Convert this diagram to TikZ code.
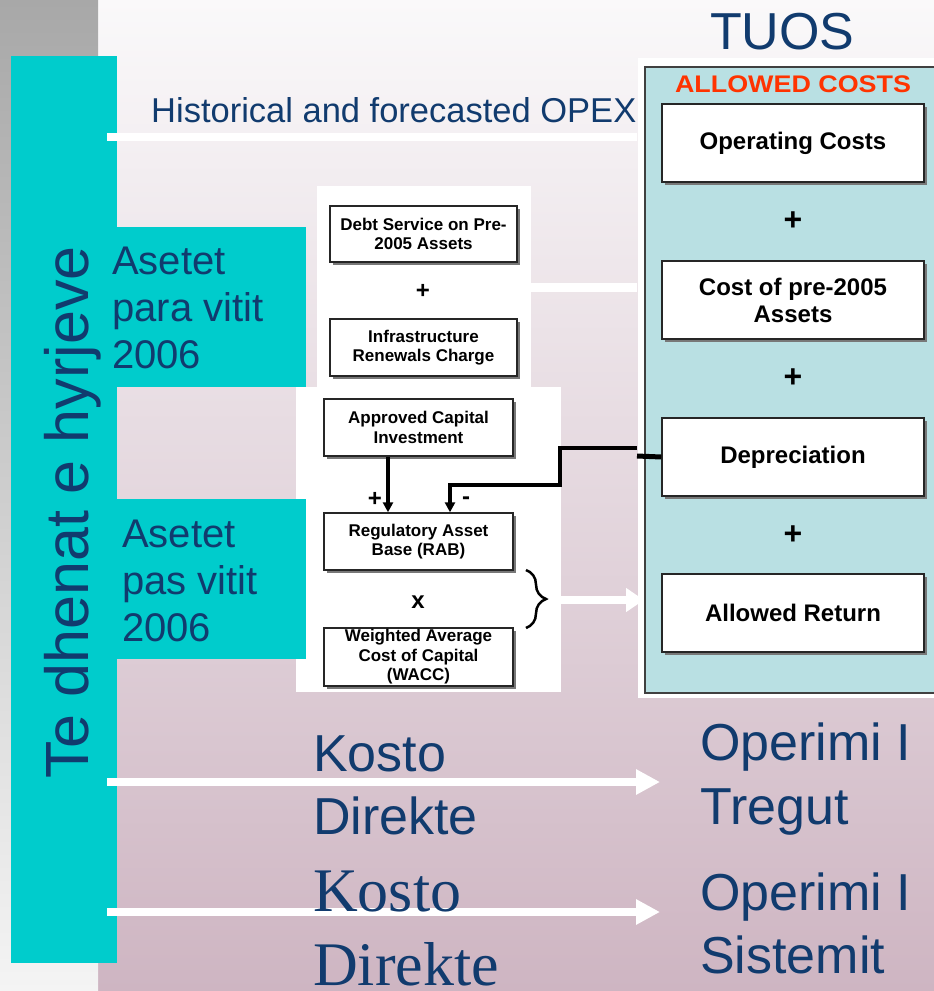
\documentclass[tikz,border=0pt]{standalone}
\usepackage{fontspec}
\setmainfont{Liberation Sans}
\newfontfamily\serifx{Liberation Serif}
\newfontfamily\widebold{Liberation Sans Bold}[FakeStretch=1.12]
\usetikzlibrary{shadows,arrows.meta,decorations.pathreplacing}
\definecolor{navy}{RGB}{17,59,110}
\definecolor{cyanbox}{RGB}{0,204,204}
\definecolor{panelblue}{RGB}{185,224,227}
\definecolor{framegray}{RGB}{64,64,64}
\definecolor{shadowgray}{RGB}{120,120,120}
\definecolor{allowred}{RGB}{255,51,0}
\definecolor{bgtop}{RGB}{250,249,250}
\definecolor{bgbot}{RGB}{206,181,194}
\definecolor{graytop}{RGB}{168,168,168}
\definecolor{graybot}{RGB}{244,244,244}
\tikzset{
  txt/.style={inner sep=0pt, anchor=base west, text=navy},
  costbox/.style={draw=black!85, line width=1.4pt, fill=white, align=center,
    inner xsep=2pt, inner ysep=0pt,
    drop shadow={shadow xshift=3pt, shadow yshift=-3pt, fill=shadowgray, opacity=1}},
  smallbox/.style={costbox, minimum width=188pt, minimum height=57pt,
    font=\fontsize{17}{19.5}\selectfont\bfseries},
  bigbox/.style={costbox, minimum width=262pt, minimum height=78pt,
    font=\fontsize{24}{27}\selectfont\bfseries},
  opsign/.style={inner sep=0pt, font=\fontsize{24}{24}\selectfont\bfseries},
  bigsign/.style={inner sep=0pt, font=\fontsize{32}{32}\selectfont\bfseries},
  whiteline/.style={draw=white, line width=8pt},
  whitearrow/.style={draw=white, line width=8pt, -{Triangle[width=24pt,length=24pt]}},
  blackarrow/.style={draw=black, line width=3.5pt, -{Triangle[width=10pt,length=10pt]}},
  hugetxt/.style={txt, font=\fontsize{52}{62}\selectfont},
  midtxt/.style={txt, font=\fontsize{40}{47}\selectfont},
}
\begin{document}
\begin{tikzpicture}[x=1pt,y=-1pt]
\useasboundingbox (0,0) rectangle (934,991);
\clip (0,0) rectangle (934,991);
% backgrounds
\shade[top color=bgtop, bottom color=bgbot] (98,0) rectangle (934,991);
\shade[top color=graytop, bottom color=graybot] (0,0) rectangle (98,991);
% cyan input bar
\fill[cyanbox] (11,56) rectangle (117,963);
% white panels behind the middle boxes
\fill[white] (317,186) rectangle (531,388);
\fill[white] (296,387) rectangle (561,692);
% cyan boxes
\fill[cyanbox] (117,227) rectangle (306,387);
\fill[cyanbox] (117,499) rectangle (306,659);
% right panel
\fill[white] (638,58) rectangle (940,698);
\node[draw=framegray, line width=2pt, fill=panelblue, minimum width=301pt,
  minimum height=626pt, anchor=north west, inner sep=0pt] (panel) at (644,66) {};

% coordinates for connectors
\coordinate (opexA) at (107,137);
\coordinate (opexB) at (637,137);
\coordinate (preA) at (531,287);
\coordinate (preB) at (637,287);
\coordinate (retA) at (561,600);
\coordinate (retB) at (644,600);
\coordinate (k1A) at (107,782);
\coordinate (k1B) at (660,782);
\coordinate (k2A) at (107,912);
\coordinate (k2B) at (660,912);

\draw[whiteline] (opexA) -- (opexB);
\draw[whiteline, line width=9pt] (preA) -- (preB);
\draw[whitearrow, -{Triangle[width=23pt,length=18pt]}] (retA) -- (retB);
\draw[whitearrow] (k1A) -- (k1B);
\draw[whitearrow] (k2A) -- (k2B);

% titles and labels
\node[txt, font=\fontsize{52}{52}\selectfont] (tuos) at (710,49) {TUOS};
\node[txt, font=\fontsize{34.5}{40}\selectfont] (opex) at (151,122) {Historical and forecasted OPEX};
\node[txt, rotate=90, font=\fontsize{61}{61}\selectfont] (inputs) at (88,779) {Te dhenat e hyrjeve};
\node[midtxt] (a1l1) at (112,274) {Asetet};
\node[midtxt] (a1l2) at (112,321) {para vitit};
\node[midtxt] (a1l3) at (112,368) {2006};
\node[midtxt] (a2l1) at (122,547) {Asetet};
\node[midtxt] (a2l2) at (122,594) {pas vitit};
\node[midtxt] (a2l3) at (122,641) {2006};

% right panel contents
\node[inner sep=0pt, text=allowred, font=\widebold\fontsize{24}{24}\selectfont] (allowed) at (793,84) {ALLOWED COSTS};
\node[bigbox] (opc) at (793,143) {Operating Costs};
\node[bigsign] (p1) at (793,221) {+};
\node[bigbox] (pre) at (793,300) {Cost of pre-2005\\Assets};
\node[bigsign] (p2) at (793,378) {+};
\node[bigbox] (dep) at (793,457) {Depreciation};
\node[bigsign] (p3) at (793,535) {+};
\node[bigbox] (ret) at (793,613) {Allowed Return};

% middle boxes
\node[smallbox, minimum width=187pt, minimum height=56pt] (debt) at (423.5,234) {Debt Service on Pre-\\2005 Assets};
\node[opsign] (p4) at (423,291) {+};
\node[smallbox, minimum width=187pt] (infra) at (423.5,347.5) {Infrastructure\\Renewals Charge};
\node[smallbox, minimum width=189pt] (aci) at (418.5,427.5) {Approved Capital\\Investment};
\node[smallbox, minimum width=189pt] (rab) at (418.5,541.5) {Regulatory Asset\\Base (RAB)};
\node[opsign] (times) at (418,602) {x};
\node[smallbox, minimum width=189pt, minimum height=58pt] (wacc) at (418.5,657) {Weighted Average\\Cost of Capital\\(WACC)};
\node[opsign] (plusin) at (375,499) {+};
\node[opsign] (minus) at (466,501) {-};

% arrows into RAB
\coordinate (cx1) at (388,0);
\coordinate (cx2) at (450,0);
\draw[blackarrow] (aci.south -| cx1) -- (rab.north -| cx1);
\coordinate (dj1) at (637,456);
\coordinate (dj2) at (637,448);
\coordinate (dj3) at (560,448);
\coordinate (dj4) at (560,485);
\coordinate (dj5) at (450,485);
\draw[line width=5pt] (dep.west) -- (dj1);
\draw[blackarrow, line width=4.5pt] (dj2) -- (dj3) -- (dj4) -- (dj5) -- (rab.north -| cx2);
% brace
\draw[line width=2.5pt, decorate, decoration={brace, amplitude=20pt}] (526,570) -- (526,628);

% bottom texts
\node[hugetxt] (k1a) at (313,771) {Kosto};
\node[hugetxt] (k1b) at (313,834) {Direkte};
\node[hugetxt] (o1a) at (700,760) {Operimi I};
\node[hugetxt] (o1b) at (700,824) {Tregut};
\node[hugetxt] (o2a) at (700,910) {Operimi I};
\node[hugetxt] (o2b) at (700,973) {Sistemit};
\node[txt, font=\serifx\fontsize{62}{62}\selectfont] (k2a) at (313,911) {Kosto};
\node[txt, font=\serifx\fontsize{62}{62}\selectfont] (k2b) at (313,985) {Direkte};
\end{tikzpicture}
\end{document}
